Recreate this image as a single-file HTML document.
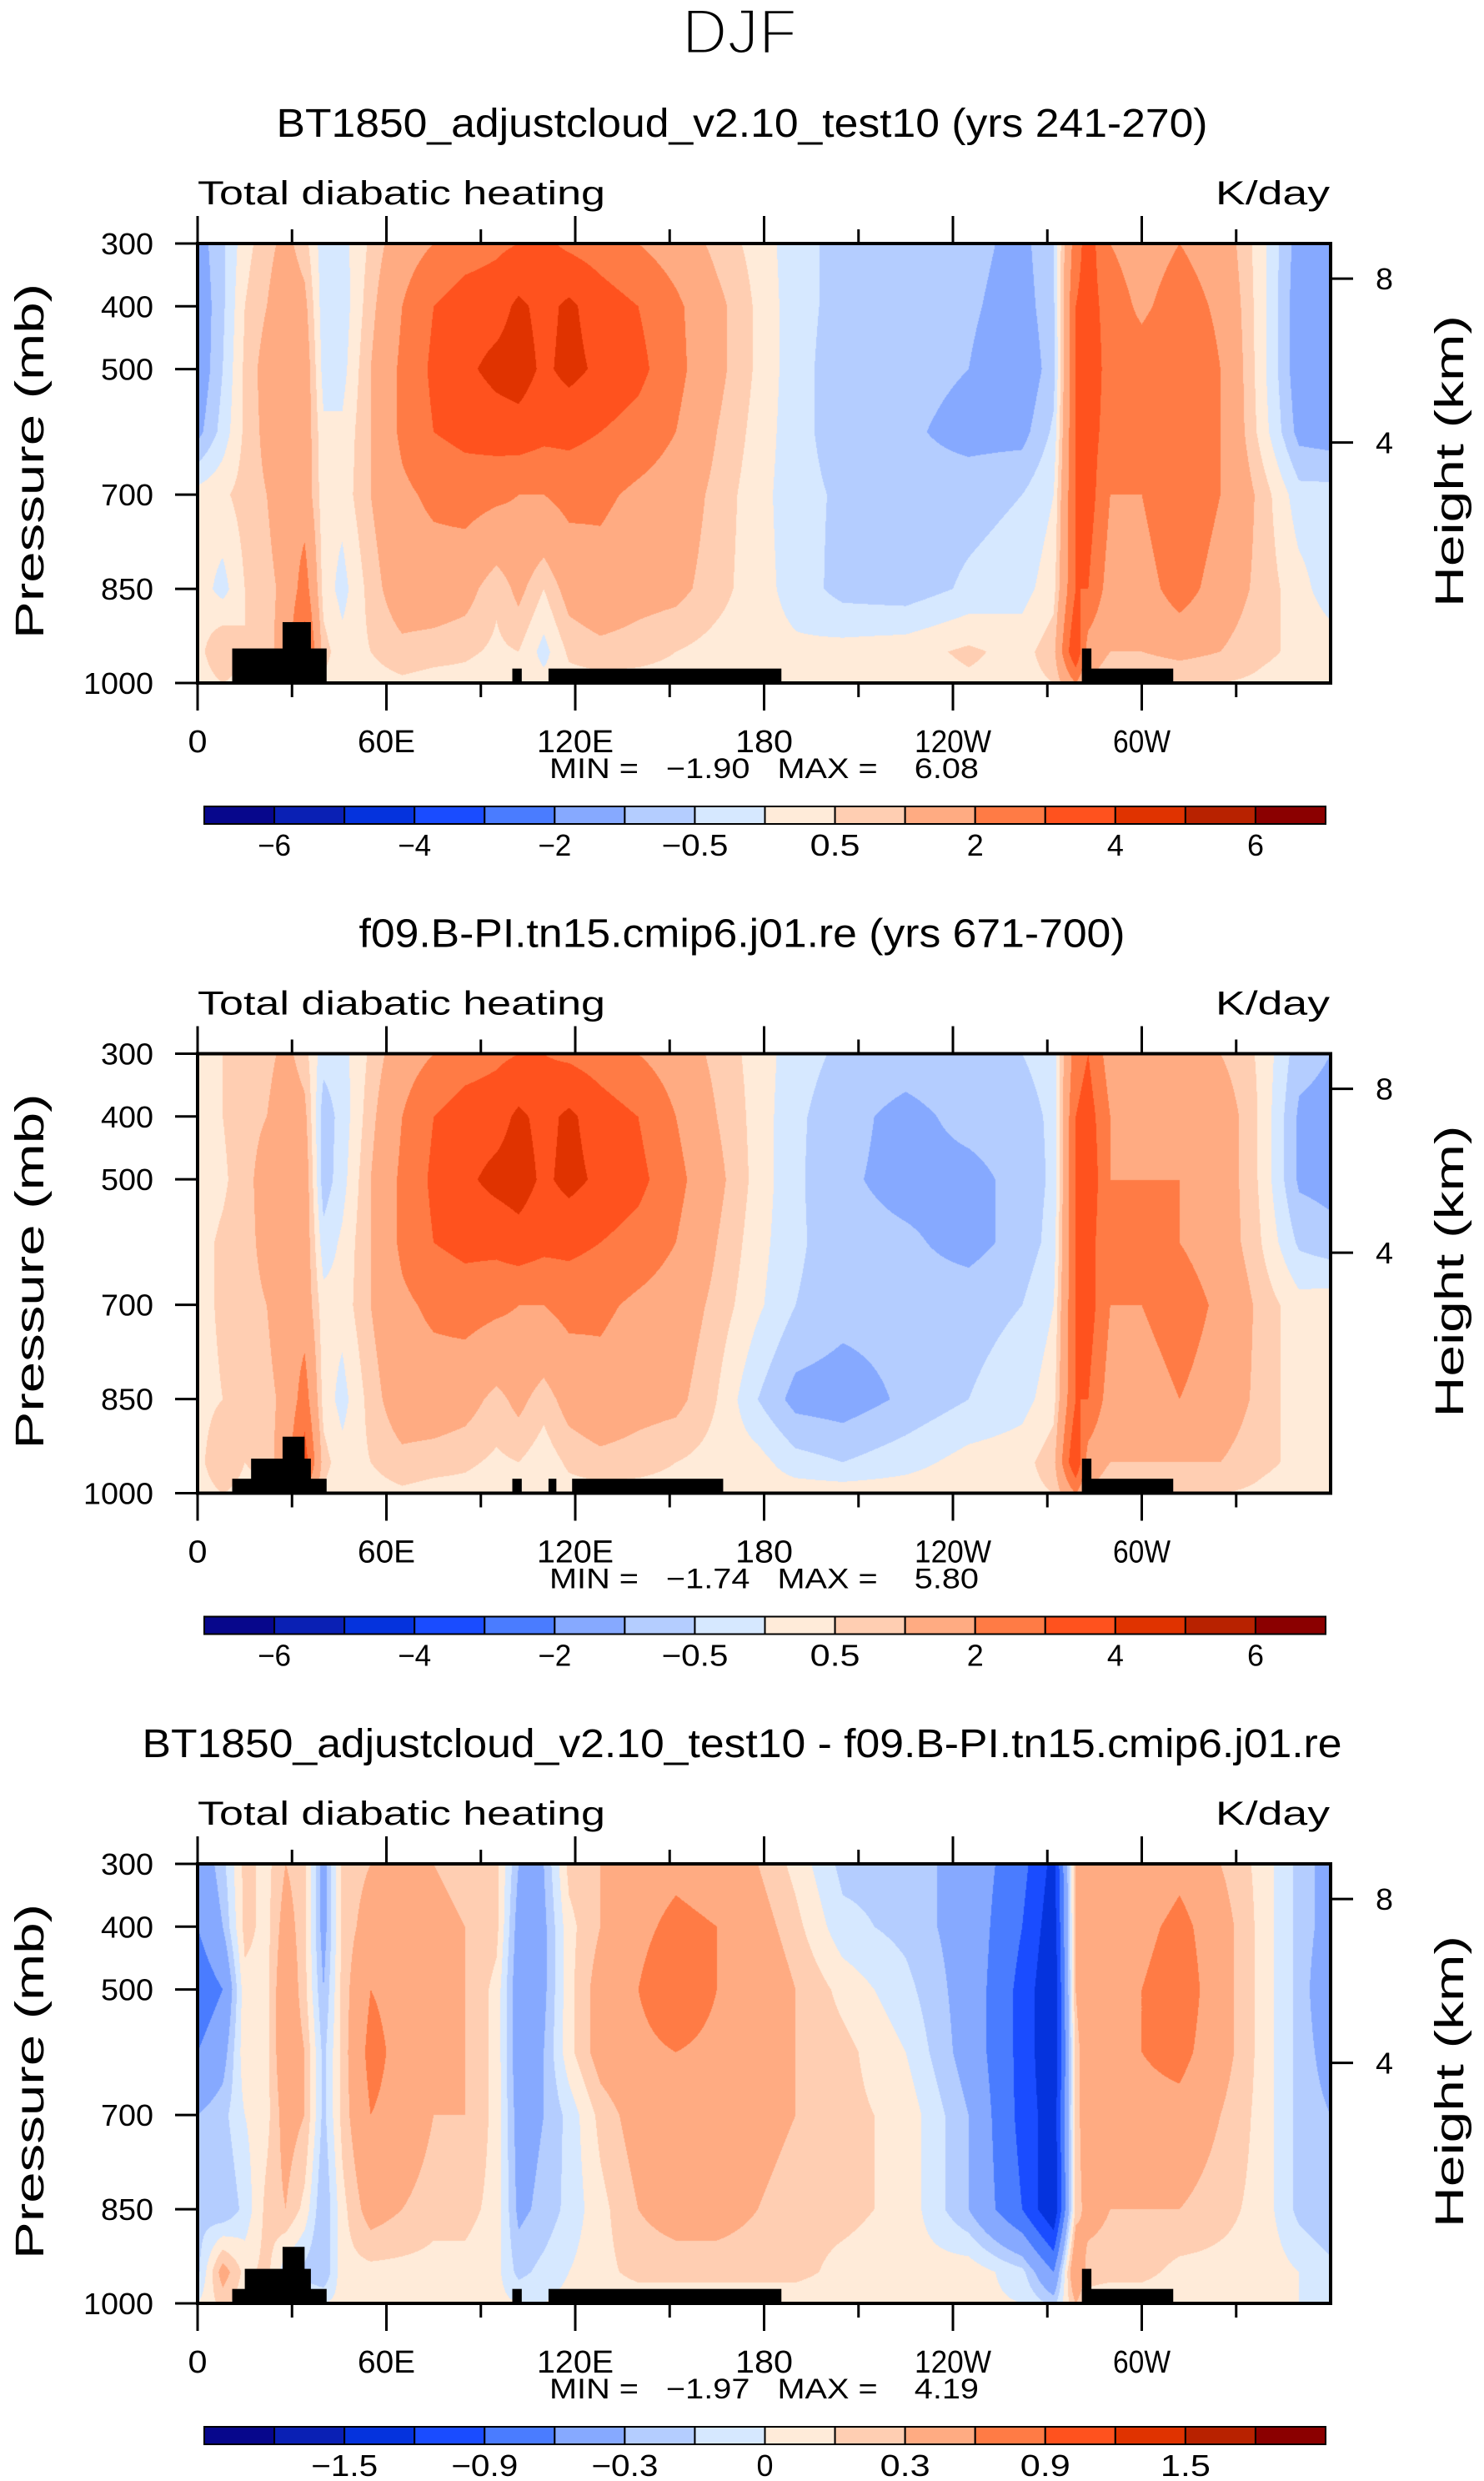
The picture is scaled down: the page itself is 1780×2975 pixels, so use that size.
<!DOCTYPE html>
<html><head><meta charset="utf-8">
<style>
html,body{margin:0;padding:0;background:#fff;}
#wrap{position:relative;width:1780px;height:2975px;overflow:hidden;}
canvas{position:absolute;}
svg{position:absolute;left:0;top:0;}
text{font-family:"Liberation Sans",sans-serif;fill:#000;}
</style></head>
<body>
<div id="wrap">
<canvas id="c0"></canvas>
<canvas id="c1"></canvas>
<canvas id="c2"></canvas>
<svg id="svg" width="1780" height="2975" xmlns="http://www.w3.org/2000/svg">
<text x="887" y="64" text-anchor="middle" font-size="76" textLength="138" lengthAdjust="spacingAndGlyphs" style="stroke:#fff;stroke-width:3px;paint-order:normal">DJF</text>
</svg>
</div>
<script>
const lons = [0,8,15,22,28,34,40,46,55,65,75,85,95,102,110,118,128,140,152,165,178,190,205,225,245,262,272,279,283,290,300,312,325,338,350,360];
const levels = [300,400,500,600,700,850,950,1000];

const panel1Values = [
[-1.3,-0.6,0.3,0.8,1.2,0.7,-0.3,-0.2,0.6,1.5,2,2.5,2.8,3,3.2,2.8,2.5,2,1.5,0.8,0.3,-0.3,-0.7,-0.7,-0.8,-1.2,-0.5,2.5,3.5,2,1.5,2,1.5,0.2,-1.3,-1.3],
[-1.5,-0.6,0.5,1,1.5,1.2,-0.3,-0.3,0.8,2,3,3.5,3.6,4.2,3.7,4.2,3.5,3,2.2,1.2,0.4,-0.3,-0.7,-0.8,-0.9,-1.3,-0.6,3,3.5,2.5,1.8,2.5,1.8,0.2,-1.4,-1.5],
[-1.5,-0.5,0.6,1.3,1.8,1.5,-0.2,-0.2,1,2.2,3.2,3.8,4.3,4.5,3.8,4.3,3.8,3.3,2.3,1.2,0.4,-0.3,-0.8,-0.8,-1,-1.5,-0.7,3,3.8,2.5,2.5,3,2,0.2,-1.4,-1.5],
[-1.2,-0.3,0.6,1.2,1.8,1.5,0.1,0.1,1,2.2,3,3.3,3.5,3.6,3.3,3.3,3,2.6,2,1,0.3,-0.3,-0.8,-0.9,-1.2,-1.2,-0.4,3,3.5,2.5,2.5,3,2,0.3,-1.2,-1.3],
[0.2,0.4,0.7,1,1.5,1.5,0.2,0.2,1,1.8,2.2,2.4,2.2,2,2,2.3,2.2,1.8,1.5,0.8,0.2,-0.3,-0.6,-0.8,-0.7,-0.5,0,3,3.5,2,2,3,2,0.8,-0.3,-0.3],
[0.3,-0.2,0.5,0.8,1.2,2.5,0.3,-0.2,0.7,1.5,1.5,1.3,0.6,1.2,0.5,1.3,1.6,1.3,1.2,0.7,0.2,-0.2,-0.7,-0.8,-0.4,-0.2,0.3,3,3,1.5,1.5,2.5,1.5,0.8,0.2,-0.3],
[0.3,1,0.5,0.7,1.5,3.5,0.7,0.2,0.5,0.8,0.7,0.6,0.4,0.5,-0.2,0.6,0.8,0.7,0.5,0.3,0.2,0.1,0.2,0.3,0.6,0.3,0.8,4,1.5,1,1,1.2,1,0.6,0.4,0.3],
[0.2,0.5,0.3,0.4,1,2,0.4,0.2,0.3,0.4,0.3,0.3,0.2,0.3,0.2,0.3,0.3,0.3,0.3,0.2,0.2,0.1,0.1,0.2,0.4,0.3,0.5,2,1,0.5,0.5,0.5,0.5,0.4,0.3,0.2]
];
const panel2Values = [
[0.3,0.5,0.7,0.8,1.2,0.7,-0.3,-0.2,0.6,1.5,2,2.5,2.8,3,3,2.8,2.5,2,1.5,0.8,0.3,-0.3,-0.6,-0.7,-0.6,-0.5,-0.3,2.5,3,1.5,1.2,1.5,1,0.4,-0.8,-1],
[0.2,0.5,0.8,1,1.5,1.2,-0.8,-0.3,0.8,2,3,3.5,3.6,4.2,3.7,4.2,3.5,3,2,1,0.3,-0.4,-0.8,-1.2,-0.8,-0.7,-0.4,3,3.5,2,1.5,1.8,1.5,0.4,-1.1,-1.2],
[0.2,0.4,0.8,1.3,1.8,1.5,-0.8,-0.2,1,2.2,3.2,3.8,4.3,4.5,3.8,4.3,3.8,3.3,2.3,1.2,0.3,-0.4,-0.9,-1.2,-1.2,-0.8,-0.4,3,3.8,2,2,2,1.5,0.4,-1.1,-1.2],
[0.3,0.6,0.8,1.2,1.8,1.5,-0.3,0.1,1,2.2,3,3.3,3.3,3.6,3.3,3.3,3,2.6,2,1,0.2,-0.4,-0.8,-0.9,-1.2,-0.8,-0.3,3,3.5,2,2,2,1.5,0.5,-0.6,-0.8],
[0.3,0.6,0.8,1,1.5,1.5,0.2,0.2,1,1.8,2.2,2.4,2.2,2,2,2.3,2.2,1.8,1.5,0.8,0.1,-0.5,-0.8,-0.8,-0.7,-0.5,0,3,3.5,2,2,2.5,1.8,0.8,0.2,0.3],
[0.3,0.5,0.5,0.8,1.2,2.5,0.3,-0.2,0.7,1.5,1.5,1.3,0.8,1.2,0.7,1.3,1.6,1.3,1.2,0.5,-0.5,-1.2,-1.3,-0.9,-0.5,-0.2,0.3,3,3,1.5,1.5,2,1.5,0.8,0.2,0.2],
[0.3,1,0.5,0.7,1.5,3.5,0.7,0.2,0.5,0.8,0.7,0.6,0.4,0.5,0.2,0.6,0.8,0.7,0.5,0.3,0.2,-0.3,-0.5,-0.2,0.2,0.3,0.8,4,1.5,1,1,1,1,0.6,0.4,0.3],
[0.2,0.5,0.3,0.4,1,2,0.4,0.2,0.3,0.4,0.3,0.3,0.2,0.3,0.2,0.3,0.3,0.3,0.3,0.3,0.3,0.3,0.3,0.3,0.4,0.3,0.5,2,1,0.5,0.5,0.5,0.5,0.4,0.3,0.2]
];
const panel3Values = [
[-0.5,-0.2,0.2,0.1,0.3,0.2,-0.4,0.2,0.3,0.4,0.3,0.2,0.2,-0.3,-0.3,0.2,0.3,0.4,0.5,0.4,0.3,0.1,-0.2,-0.2,-0.4,-0.8,-1.3,0.3,0.4,0.4,0.3,0.5,0.3,0.1,-0.2,-0.4],
[-0.6,-0.3,0.2,0.1,0.4,0.2,-0.4,0.2,0.4,0.5,0.4,0.3,0.2,-0.4,-0.35,0.1,0.3,0.5,0.7,0.6,0.4,0.2,-0.1,-0.2,-0.4,-0.9,-1.4,0.3,0.5,0.5,0.5,0.7,0.4,0.1,-0.2,-0.4],
[-0.8,-0.6,0.1,0.1,0.5,0.2,-0.3,0.2,0.6,0.5,0.4,0.3,0.1,-0.45,-0.35,0.1,0.4,0.6,0.9,0.6,0.5,0.3,0.1,-0.1,-0.4,-1,-1.5,0.3,0.6,0.5,0.6,0.8,0.4,0.1,-0.2,-0.5],
[-0.6,-0.4,0.1,0.1,0.5,0.3,-0.2,0.2,0.7,0.5,0.4,0.3,0.1,-0.45,-0.3,0.1,0.4,0.5,0.6,0.5,0.4,0.3,0.2,0,-0.4,-1,-1.5,0.2,0.5,0.5,0.6,0.7,0.4,0.1,-0.2,-0.4],
[-0.3,-0.2,0,0.1,0.4,0.3,-0.2,0.2,0.6,0.5,0.3,0.3,0.1,-0.4,-0.3,-0.1,0.2,0.4,0.5,0.5,0.4,0.3,0.2,0.1,-0.3,-1,-1.4,0.2,0.5,0.4,0.5,0.5,0.3,0.1,-0.2,-0.3],
[-0.2,-0.3,-0.1,0.2,0.3,0.1,-0.3,0.1,0.4,0.3,0.2,0.2,0.1,-0.35,-0.25,-0.1,0.1,0.3,0.4,0.4,0.3,0.2,0.2,0.1,-0.3,-0.9,-1.5,0.2,0.4,0.3,0.3,0.3,0.2,0.1,-0.2,-0.3],
[-0.2,0.4,0.1,0.2,-0.1,-0.2,-0.3,0.1,0.1,0.1,0.1,0.1,0.05,-0.2,-0.1,0,0.1,0.2,0.2,0.2,0.2,0.2,0.1,0.05,0.1,-0.1,-0.6,0.6,0.2,0.2,0.2,0.1,0.1,0.1,0,-0.1],
[0,0.2,0.05,0.05,0,0,0,0.05,0.05,0.05,0.05,0.05,0.05,0,0,0.05,0.05,0.05,0.05,0.05,0.05,0.05,0.05,0.05,0.05,0,-0.2,0.3,0.1,0.05,0.05,0.05,0.05,0.05,0,0]
];
const bounds12 = [-6,-5,-4,-3,-2,-1,-0.5,0,0.5,1,2,3,4,5,6];
const bounds3 = [-1.8,-1.5,-1.2,-0.9,-0.6,-0.3,-0.15,0,0.15,0.3,0.6,0.9,1.2,1.5,1.8];
const cbLabels12 = ["-6","-4","-2","-0.5","0.5","2","4","6"];
const cbLabels3 = ["-1.5","-0.9","-0.3","0","0.3","0.9","1.5"];
const palette = ["#07078c","#0a20b4","#0533dd","#1a4cff","#4a7cff","#86a9ff","#b4cdff","#d6e8ff","#ffebd9","#ffceb2","#ffab82","#ff7b45","#ff521e","#e03300","#b82200","#8b0000"];
const titles = ["BT1850_adjustcloud_v2.10_test10 (yrs 241-270)","f09.B-PI.tn15.cmip6.j01.re (yrs 671-700)","BT1850_adjustcloud_v2.10_test10 - f09.B-PI.tn15.cmip6.j01.re"];
const titleWidths = [1117,919,1439];
const minVals = ["-1.90","-1.74","-1.97"];
const maxVals = ["6.08","5.80","4.19"];
const xTickLabels = ["0","60E","120E","180","120W","60W"];
const xTickLons = [0,60,120,180,240,300];
const pTicks = [300,400,500,700,850,1000];
const hTicks = [8,4];
const hTickP = [356,617];
const topo1 = [[11,41,945],[27,36,903],[100,103,977],[111.5,185.5,977],[281,310,977],[281,284,945]];
const topo2 = [[11,41,977],[17,36,945],[27,34,910],[100,103,977],[111.5,114,977],[119,167,977],[281,310,977],[281,284,945]];
const topo3 = [[11,41,977],[15,36,945],[27,34,910],[100,103,977],[111.5,185.5,977],[281,310,977],[281,284,945]];

const X0=237, X1=1596, Y0=292, Y1=819;
const OFFS=[0,971.5,1943];
const xs = lon => X0 + (lon/360)*(X1-X0);
const ys = p => Y0 + (p-300)/700*(Y1-Y0);
const NS='http://www.w3.org/2000/svg';
const svg=document.getElementById('svg');
function el(tag, attrs, txt){const e=document.createElementNS(NS,tag);for(const k in attrs)e.setAttribute(k,attrs[k]);if(txt!==undefined)e.textContent=txt;svg.appendChild(e);return e;}

function sample(vals, lon, p){
  let i=0; while(i<lons.length-2 && lon>lons[i+1]) i++;
  let j=0; while(j<levels.length-2 && p>levels[j+1]) j++;
  const tx=(lon-lons[i])/(lons[i+1]-lons[i]);
  const ty=(p-levels[j])/(levels[j+1]-levels[j]);
  const g=(r,c)=>{const row=vals[r]; let v=row[c]; if(v===undefined) v=row[row.length-1]; return v;};
  const a=g(j,i)*(1-tx)+g(j,i+1)*tx;
  const b=g(j+1,i)*(1-tx)+g(j+1,i+1)*tx;
  return a*(1-ty)+b*ty;
}
function colorIdx(v,bounds){let k=0;while(k<bounds.length && v>=bounds[k])k++;return k;}
function hexRgb(h){return [parseInt(h.substr(1,2),16),parseInt(h.substr(3,2),16),parseInt(h.substr(5,2),16)];}
const rgbPal=palette.map(hexRgb);

const allVals=[panel1Values,panel2Values,panel3Values];
const allTopo=[topo1,topo2,topo3];
for(let n=0;n<3;n++){
  const off=OFFS[n];
  const bounds = n<2?bounds12:bounds3;
  const cv=document.getElementById('c'+n);
  const W=Math.round(X1-X0), H=Math.round(Y1-Y0);
  cv.width=W; cv.height=H; cv.style.left=X0+'px'; cv.style.top=(Y0+off)+'px';
  const ctx=cv.getContext('2d');
  const img=ctx.createImageData(W,H);
  for(let y=0;y<H;y++){
    const p=300+(y+0.5)/H*700;
    for(let x=0;x<W;x++){
      const lon=(x+0.5)/W*360;
      const v=sample(allVals[n],lon,p);
      const c=rgbPal[colorIdx(v,bounds)];
      const o=(y*W+x)*4; img.data[o]=c[0];img.data[o+1]=c[1];img.data[o+2]=c[2];img.data[o+3]=255;
    }
  }
  ctx.putImageData(img,0,0);
  for(const t of allTopo[n]){
    const r=el('rect',{x:xs(t[0]),y:ys(t[2])+off,width:xs(t[1])-xs(t[0]),height:Y1-ys(t[2]),fill:'#000'});
    
    
  }
  const fr=el('rect',{x:X0,y:Y0+off,width:X1-X0,height:Y1-Y0,fill:'none',stroke:'#000','stroke-width':4});
  
  
  const tt=el('text',{x:890,y:164+off,'text-anchor':'middle','font-size':48,textLength:titleWidths[n],lengthAdjust:'spacingAndGlyphs'},titles[n]);
  
  
  const lt=el('text',{x:X0,y:245+off,'font-size':40,textLength:489,lengthAdjust:'spacingAndGlyphs'},'Total diabatic heating');
  
  
  const ut=el('text',{x:1458,y:245+off,'font-size':40,textLength:137,lengthAdjust:'spacingAndGlyphs'},'K/day');
  
  
  for(let lon=0;lon<=330;lon+=30){
    const major=lon%60===0, x=xs(lon);
    const len=major?33:17;
    const tk=el('line',{x1:x,x2:x,y1:Y0+off,y2:Y0+off-len,stroke:'#000','stroke-width':3});
    
    
    const tb=el('line',{x1:x,x2:x,y1:Y1+off,y2:Y1+off+len,stroke:'#000','stroke-width':3});
    
    
  }
  for(let k=0;k<xTickLabels.length;k++){
    const lb=el('text',{x:xs(xTickLons[k]),y:902+off,'text-anchor':'middle','font-size':38,textLength:xTickLabels[k].length*23,lengthAdjust:'spacingAndGlyphs'},xTickLabels[k]);
    
    
  }
  for(const p of pTicks){
    const tk=el('line',{x1:X0-27,x2:X0,y1:ys(p)+off,y2:ys(p)+off,stroke:'#000','stroke-width':3});
    
    
    const s=String(p);
    const lb=el('text',{x:184,y:ys(p)+off+13,'text-anchor':'end','font-size':36,textLength:s.length*21,lengthAdjust:'spacingAndGlyphs'},s);
    
    
  }
  for(let k=0;k<hTicks.length;k++){
    const y=ys(hTickP[k])+off;
    const tk=el('line',{x1:X1,x2:X1+27,y1:y,y2:y,stroke:'#000','stroke-width':3});
    
    
    const lb=el('text',{x:1650,y:y+13,'font-size':36,textLength:21,lengthAdjust:'spacingAndGlyphs'},String(hTicks[k]));
    
    
  }
  const yt=el('text',{x:0,y:0,'text-anchor':'middle','font-size':48,textLength:426,lengthAdjust:'spacingAndGlyphs',transform:`translate(52,${553+off}) rotate(-90)`},'Pressure (mb)');
  
  
  const ht=el('text',{x:0,y:0,'text-anchor':'middle','font-size':48,textLength:350,lengthAdjust:'spacingAndGlyphs',transform:`translate(1755,${553+off}) rotate(-90)`},'Height (km)');
  
  
  const mm=el('text',{x:659,y:933+off,'font-size':34,textLength:515,lengthAdjust:'spacingAndGlyphs',style:'white-space:pre'},'MIN =   '+minVals[n].replace('-','\u2212')+'   MAX =    '+maxVals[n]);
  
  
  const cbx0=245, cbx1=1590, cby=967+off, cbh=21, cw=(cbx1-cbx0)/16;
  for(let k=0;k<16;k++){
    const r=el('rect',{x:cbx0+k*cw,y:cby,width:cw,height:cbh,fill:palette[k],stroke:'#000','stroke-width':2});
    
    
  }
  const labs=n<2?cbLabels12:cbLabels3;
  for(let k=0;k<labs.length;k++){
    const bi = n<2 ? 1+2*k : 2+2*k;
    const s=labs[k].replace('-','\u2212');
    const lb=el('text',{x:cbx0+bi*cw,y:1026+off,'text-anchor':'middle','font-size':36,textLength:labs[k].length*20,lengthAdjust:'spacingAndGlyphs'},s);
    
    
  }
}
</script>
</body></html>
